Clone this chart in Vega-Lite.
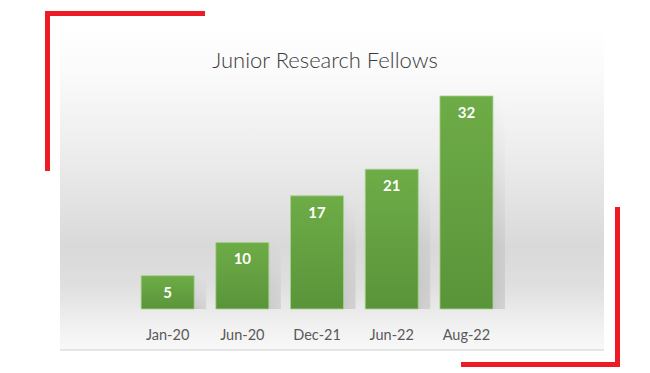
{
  "$schema": "https://vega.github.io/schema/vega-lite/v6.json",
  "width": 650,
  "height": 373,
  "padding": 0,
  "autosize": {"type": "fit", "contains": "padding"},
  "background": "#ffffff",
  "config": {"view": {"stroke": null}},
  "datasets": {
    "fellows": [
      {"period": "Jan-20", "count": 5},
      {"period": "Jun-20", "count": 10},
      {"period": "Dec-21", "count": 17},
      {"period": "Jun-22", "count": 21},
      {"period": "Aug-22", "count": 32}
    ],
    "panel": [{"x": 60, "x2": 604, "y": 27, "y2": 350}],
    "brackets": [
      {"x": 45, "x2": 205, "y": 11, "y2": 16},
      {"x": 45, "x2": 50, "y": 11, "y2": 171},
      {"x": 615, "x2": 620, "y": 207, "y2": 367},
      {"x": 461, "x2": 620, "y": 362, "y2": 367}
    ],
    "titleRow": [{"label": "Junior Research Fellows", "x": 325, "y": 61}]
  },
  "layer": [
    {
      "layer": [
        {
          "data": {"name": "panel"},
          "mark": {
            "type": "rect",
            "fill": {
              "gradient": "linear",
              "x1": 0, "y1": 0, "x2": 0, "y2": 1,
              "stops": [
                {"offset": 0, "color": "#ffffff"},
                {"offset": 0.15, "color": "#fafafa"},
                {"offset": 0.4, "color": "#ececec"},
                {"offset": 0.68, "color": "#d9d9d9"},
                {"offset": 0.8, "color": "#dfdfdf"},
                {"offset": 0.92, "color": "#f0f0f0"},
                {"offset": 1, "color": "#f8f8f8"}
              ]
            }
          },
          "encoding": {
            "x": {"field": "x", "type": "quantitative", "scale": {"domain": [0, 650], "nice": false, "zero": false}, "axis": null},
            "x2": {"field": "x2"},
            "y": {"field": "y", "type": "quantitative", "scale": {"domain": [0, 373], "nice": false, "zero": false, "reverse": true}, "axis": null},
            "y2": {"field": "y2"}
          }
        },
        {
          "data": {"name": "panel"},
          "mark": {"type": "rule", "stroke": "#dedede", "strokeWidth": 1.5},
          "encoding": {
            "x": {"field": "x", "type": "quantitative"},
            "x2": {"field": "x2"},
            "y": {"field": "y2", "type": "quantitative"}
          }
        },
        {
          "data": {"name": "brackets"},
          "mark": {"type": "rect", "fill": "#ed1c24"},
          "encoding": {
            "x": {"field": "x", "type": "quantitative"},
            "x2": {"field": "x2"},
            "y": {"field": "y", "type": "quantitative"},
            "y2": {"field": "y2"}
          }
        },
        {
          "data": {"name": "titleRow"},
          "mark": {"type": "text", "font": "Lato", "fontSize": 22, "fontWeight": 300, "color": "#3a3a3a", "baseline": "middle", "align": "center"},
          "encoding": {
            "x": {"field": "x", "type": "quantitative"},
            "y": {"field": "y", "type": "quantitative"},
            "text": {"field": "label"}
          }
        }
      ]
    },
    {
      "data": {"name": "fellows"},
      "layer": [
        {
          "mark": {
            "type": "bar",
            "xOffset": 12,
            "x2Offset": 12,
            "fill": {
              "gradient": "linear",
              "x1": 0, "y1": 1, "x2": 0.9, "y2": 0,
              "stops": [
                {"offset": 0, "color": "rgba(80,80,80,0.4)"},
                {"offset": 0.6, "color": "rgba(120,120,120,0.15)"},
                {"offset": 1, "color": "rgba(150,150,150,0)"}
              ]
            }
          },
          "encoding": {
            "x": {
              "field": "period",
              "type": "nominal",
              "sort": null,
              "scale": {"range": [130.3, 503.8], "paddingInner": 0.29, "paddingOuter": 0.145},
              "axis": {
                "title": null,
                "orient": "bottom",
                "offset": -64,
                "zindex": 2,
                "ticks": false,
                "domain": false,
                "grid": false,
                "labelPadding": 19,
                "labelFont": "Lato",
                "labelFontSize": 14.5,
                "labelColor": "#595959",
                "labelAngle": 0
              }
            },
            "y": {"field": "count", "type": "quantitative", "scale": {"domain": [-9.615, 46.42], "nice": false, "zero": false}, "axis": null},
            "y2": {"datum": 0}
          }
        },
        {
          "mark": {
            "type": "bar",
            "stroke": "#a9d28e",
            "strokeWidth": 1,
            "strokeOpacity": 0.8,
            "fill": {
              "gradient": "linear",
              "x1": 0, "y1": 0, "x2": 0, "y2": 1,
              "stops": [
                {"offset": 0, "color": "#6eac47"},
                {"offset": 1, "color": "#5a943a"}
              ]
            }
          },
          "encoding": {
            "x": {"field": "period", "type": "nominal", "sort": null},
            "y": {"field": "count", "type": "quantitative"},
            "y2": {"datum": 0}
          }
        },
        {
          "mark": {"type": "text", "font": "Lato", "fontSize": 15, "fontWeight": "bold", "color": "#ffffff", "baseline": "middle", "dy": 17},
          "encoding": {
            "x": {"field": "period", "type": "nominal", "sort": null},
            "y": {"field": "count", "type": "quantitative"},
            "text": {"field": "count", "type": "quantitative"}
          }
        }
      ]
    }
  ],
  "resolve": {"scale": {"x": "independent", "y": "independent"}}
}
